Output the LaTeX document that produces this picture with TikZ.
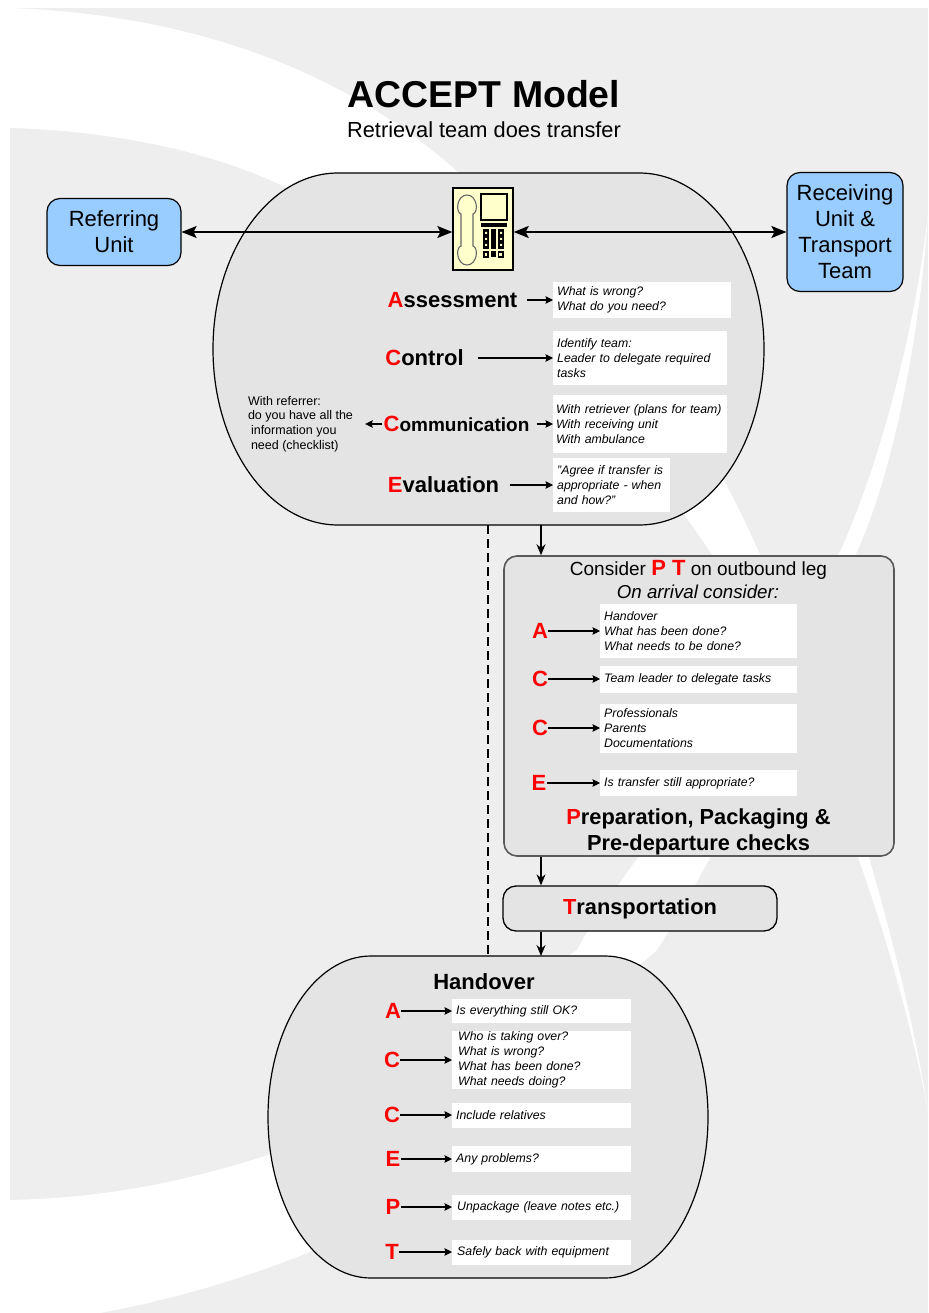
\documentclass[tikz,border=0pt]{standalone}
\usepackage{fontspec}
\setmainfont{Liberation Sans}
\usepackage{xcolor}
\usetikzlibrary{arrows.meta}

\definecolor{sheetgrey}{HTML}{EEEEEE}
\definecolor{ovalgrey}{HTML}{E4E4E4}
\definecolor{unitblue}{HTML}{99CCFF}
\definecolor{phoneyellow}{HTML}{FFFFCC}
\newcommand{\redl}[1]{\textcolor{red}{#1}}

\tikzset{
  unitbox/.style={draw, line width=1.2pt, fill=unitblue, rounded corners=13pt, inner sep=0pt, align=center, font=\fontsize{22}{26}\selectfont},
  stepbox/.style={draw, fill=ovalgrey, rounded corners=13pt, inner sep=0pt, align=center},
  word/.style={inner sep=0pt, font=\fontsize{22}{26}\bfseries\selectfont, align=center},
  letter/.style={inner sep=0pt, text=red, font=\fontsize{22}{26}\bfseries\selectfont},
  notebox/.style={fill=white, inner xsep=4pt, inner ysep=0pt, align=left, anchor=west, font=\fontsize{12.3}{15}\itshape\selectfont},
  plainnote/.style={inner sep=0pt, align=left, font=\fontsize{12.5}{14.7}\selectfont},
  oval/.style={draw, line width=1.2pt, fill=ovalgrey},
  bigline/.style={line width=1.3pt, -{Stealth[length=11pt,width=9pt]}},
  bothline/.style={line width=1.3pt, {Stealth[length=15pt,width=12pt,inset=3pt]}-{Stealth[length=15pt,width=12pt,inset=3pt]}},
  noteline/.style={line width=1.2pt, -{Stealth[length=7.5pt,width=7.5pt,inset=1pt]}}
}

\begin{document}
\begin{tikzpicture}[x=1pt, y=-1pt]
    \useasboundingbox (0,0) rectangle (928,1313);
    % backdrop and its two white sweeps
    \fill[white] (0,0) rectangle (928,1313);
    \fill[sheetgrey] (10,8) rectangle (928,1313);
    \fill[white] (10,8) .. controls (200,15) and (350,75) .. (459,173) .. controls (540,245) and (660,385) .. (723,479)
      .. controls (790,600) and (890,880) .. (928,1110) .. controls (895,940) and (820,720) .. (713,556)
      .. controls (600,385) and (440,265) .. (287,188) .. controls (200,145) and (90,130) .. (10,128) -- cycle;
    \fill[white] (10,1200) .. controls (110,1198) and (190,1180) .. (268,1155) -- (577,950)
      .. controls (625,860) and (770,700) .. (838,556) .. controls (880,465) and (915,330) .. (928,215)
      .. controls (920,330) and (895,470) .. (855,556) .. controls (800,680) and (720,850) .. (657,950)
      -- (310,1252) .. controls (240,1280) and (170,1300) .. (100,1313) -- (10,1313) -- cycle;

    % the two big ovals
    \draw[oval] (338,173) -- (639,173) .. controls (708,173) and (764,252) .. (764,349)
      .. controls (764,446) and (708,525) .. (639,525) -- (338,525)
      .. controls (269,525) and (213,446) .. (213,349) .. controls (213,252) and (269,173) .. (338,173) -- cycle;
    \draw[oval] (371,956) -- (605,956) .. controls (662,956) and (708,1028) .. (708,1117)
      .. controls (708,1206) and (662,1278) .. (605,1278) -- (371,1278)
      .. controls (314,1278) and (268,1206) .. (268,1117) .. controls (268,1028) and (314,956) .. (371,956) -- cycle;
    \coordinate (topa) at (488,525);
    \coordinate (topb) at (541,525);
    \coordinate (handa) at (488,956);
    \coordinate (handb) at (541,956);

    % title
    \node[inner sep=0pt, font=\fontsize{37.4}{40}\bfseries\selectfont] (title) at (484,94) {ACCEPT Model};
    \node[inner sep=0pt, font=\fontsize{21.8}{26}\selectfont] (subtitle) at (484,130) {Retrieval team does transfer};

    % units and phone
    \node[unitbox, minimum width=134pt, minimum height=67pt] (referring) at (114,232) {Referring\\Unit};
    \node[unitbox, minimum width=116pt, minimum height=119pt] (receiving) at (845,232) {Receiving\\Unit \&\\Transport\\Team};
    \node[draw, line width=1.4pt, fill=phoneyellow, minimum width=60pt, minimum height=82pt, inner sep=0pt] (phone) at (483,229) {};
    \draw[line width=1.1pt, black!60] (461,214) -- (461,246) .. controls (455,248) and (457,265) .. (467,265)
      .. controls (477,265) and (479,248) .. (473,246) -- (473,214)
      .. controls (479,212) and (477,195) .. (467,195) .. controls (457,195) and (455,212) .. (461,214) -- cycle;
    \draw[line width=1.4pt] (481,194) rectangle (507,220);
    \fill (481,223) rectangle (507,227);
    \fill (483,229) rectangle (489,249);
    \fill (491,229) rectangle (496,249);
    \fill (498,229) rectangle (504,249);
    \fill[phoneyellow] (485,232) rectangle (487,234) (485,238) rectangle (487,240) (485,244) rectangle (487,246);
    \fill[phoneyellow] (500,232) rectangle (502,234) (500,238) rectangle (502,240) (500,244) rectangle (502,246);
    \draw[line width=1.2pt] (484,252) rectangle (488,257) (498.5,252) rectangle (503,257);
    \fill (491,251) rectangle (496,257);

    % first oval
    \node[word] (assess) at (452.5,300) {\redl{A}ssessment};
    \node[word] (control) at (424.5,358) {\redl{C}ontrol};
    \node[word] (comm) at (456.5,424) {\redl{C}{\fontsize{19}{26}\selectfont ommunication}};
    \node[word] (eval) at (443.5,485) {\redl{E}valuation};
    \node[notebox, text width=170pt, minimum height=36pt] (assessnote) at (553,300) {What is wrong?\\What do you need?};
    \node[notebox, text width=166pt, minimum height=54pt] (controlnote) at (553,358) {Identify team:\\Leader to delegate required\\tasks};
    \node[notebox, inner xsep=3pt, text width=168pt, minimum height=58pt] (commnote) at (553,424) {With retriever (plans for team)\\With receiving unit\\With ambulance};
    \node[notebox, text width=109pt, minimum height=54pt] (evalnote) at (553,485) {"Agree if transfer is\\appropriate - when\\and how?"};
    \node[plainnote] (refnote) at (300.5,424) {With referrer:\\do you have all the\\\hspace*{3pt}information you\\\hspace*{3pt}need (checklist)};

    % preparation box
    \node[stepbox, line width=1.6pt, draw=black!65, minimum width=390pt, minimum height=300pt] (prepbox) at (699,706) {};
    \node[inner sep=0pt, font=\fontsize{19}{22}\selectfont] (consider) at (698.5,570) {Consider {\fontsize{22}{22}\bfseries\selectfont\redl{P} \redl{T}} on outbound leg};
    \node[inner sep=0pt, font=\fontsize{18.7}{22}\itshape\selectfont] (arrival) at (698,592) {On arrival consider:};
    \node[letter] (pa) at (540,631) {A};
    \node[letter] (pc) at (540,679) {C};
    \node[letter] (pcc) at (540,728) {C};
    \node[letter] (pe) at (539,783) {E};
    \node[notebox, text width=189pt, minimum height=54pt] (panote) at (600,631) {Handover\\What has been done?\\What needs to be done?};
    \node[notebox, text width=189pt, minimum height=27pt] (pcnote) at (600,679) {Team leader to delegate tasks};
    \node[notebox, text width=189pt, minimum height=49pt] (pccnote) at (600,728) {Professionals\\Parents\\Documentations};
    \node[notebox, text width=189pt, minimum height=26pt] (penote) at (600,783) {Is transfer still appropriate?};
    \node[word, font=\fontsize{21.8}{26}\bfseries\selectfont] (prep) at (698.5,832) {\redl{P}reparation, Packaging \&\\Pre-departure checks};

    % transportation
    \node[stepbox, line width=1.3pt, minimum width=274pt, minimum height=45pt, font=\fontsize{21.8}{26}\bfseries\selectfont] (trans) at (640,908.5) {\redl{T}ransportation};

    % handover oval
    \node[word] (handover) at (484,982) {Handover};
    \node[letter] (ha) at (393,1011) {A};
    \node[letter] (hc) at (392,1060) {C};
    \node[letter] (hcc) at (392,1115) {C};
    \node[letter] (he) at (393,1159) {E};
    \node[letter] (hp) at (393,1207) {P};
    \node[letter] (ht) at (392,1252) {T};
    \node[notebox, text width=171pt, minimum height=24pt] (hanote) at (452,1011) {Is everything still OK?};
    \node[notebox, text width=171pt, minimum height=58pt] (hcnote) at (452,1060) {\hspace*{2pt}Who is taking over?\\\hspace*{2pt}What is wrong?\\\hspace*{2pt}What has been done?\\\hspace*{2pt}What needs doing?};
    \node[notebox, text width=171pt, minimum height=25pt] (hccnote) at (452,1115) {Include relatives};
    \node[notebox, text width=171pt, minimum height=26pt] (henote) at (452,1159) {Any problems?};
    \node[notebox, text width=171pt, minimum height=25pt] (hpnote) at (452,1207) {\hspace*{1pt}Unpackage (leave notes etc.)};
    \node[notebox, text width=171pt, minimum height=25pt] (htnote) at (452,1252) {\hspace*{1pt}Safely back with equipment};

    \draw[line width=1.5pt, dash pattern=on 9pt off 5pt] (topa) -- (handa);
    \path[bothline]
    (referring) edge (referring -| phone.west)
    (receiving -| phone.east) edge (receiving);
    \path[bigline]
    (topb) edge (topb |- prepbox.north)
    (topb |- prepbox.south) edge (topb |- trans.north)
    (topb |- trans.south) edge (handb);
    \path[noteline]
    (assess) edge [shorten <=9pt] (assessnote)
    (control) edge [shorten <=14pt] (controlnote)
    (comm) edge [shorten <=7pt] (commnote)
    (comm) edge [shorten >=12pt, shorten <=1pt] (refnote)
    (eval) edge [shorten <=11pt] (evalnote)
    (pa) edge (panote)
    (pc) edge (pcnote)
    (pcc) edge (pccnote)
    (pe) edge (penote)
    (ha) edge (hanote)
    (hc) edge (hcnote)
    (hcc) edge (hccnote)
    (he) edge (henote)
    (hp) edge (hpnote)
    (ht) edge (htnote)
;
\end{tikzpicture}
\end{document}
